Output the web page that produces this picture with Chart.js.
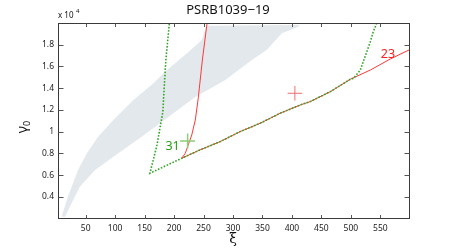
<!DOCTYPE html>
<html>
<head>
<meta charset="utf-8">
<script src="https://cdn.jsdelivr.net/npm/chart.js@4/dist/chart.umd.min.js"></script>
<style>
html,body{margin:0;padding:0;background:#fff;}
#wrap{width:452px;height:249px;position:relative;}
</style>
</head>
<body>
<div id="wrap"><canvas id="c" width="452" height="249"></canvas></div>
<script>
// ---- data (xi, gamma0) ----
const titleText = 'PSRB1039\u221219';
const xTickStep = 50;
const yTickStep = 2000;
const xRange = [3, 599.5];
const yRange = [2450, 19800];

const bandUpper = [[9,2620],[20,4410],[37,6770],[52,8250],[71,9720],[97,11200],[131,12980],[165,14460],[188,15630],[222,17110],[247,18290],[255,19550],[412,19620]];
const bandLower = [[411,19470],[383,18890],[357,17410],[332,16520],[287,14750],[236,13240],[188,11380],[142,9610],[97,7950],[66,6770],[40,5290],[23,3520],[15,2620]];

const redSteep = [[213,7810],[219,8250],[224,8990],[230,9870],[236,11200],[241,13130],[248,16520],[256,19800],[258,20500]];
const redLower = [[213,7810],[244,8550],[278,9280],[312,10170],[346,10910],[380,11800],[414,12530],[431,12830],[465,13710],[499,14810],[533,15630],[567,16610],[601,17470]];

const greenCurve = [[193,20300],[192,19800],[186,16520],[182,12980],[181,11940],[176,10470],[171,8990],[159,6480],
  [213,7810],[244,8550],[278,9280],[312,10170],[346,10910],[380,11800],[414,12530],[431,12830],[465,13710],[499,14810],[505,14900],
  [516,15630],[524,16810],[533,18140],[538,19030],[544,19800],[546,20200]];

const greenMark = [[223,9340]];
const redMark = [[405,13570]];

const curveLabels = [{text:'31', at:[197.5,8880], color:'rgb(40,160,20)'},{text:'23', at:[563,16990], color:'#ff2020'}];

const pts = a => a.map(p => ({x:p[0], y:p[1]}));

const bandPlugin = {
  id:'band',
  beforeDatasetsDraw(chart){
    const meta = chart.getDatasetMeta(0);
    const ctx = chart.ctx, a = chart.chartArea;
    ctx.save();
    ctx.beginPath(); ctx.rect(a.left, a.top, a.right-a.left, a.bottom-a.top); ctx.clip();
    ctx.beginPath();
    meta.data.forEach((el,i)=>{ if(i===0) ctx.moveTo(el.x,el.y); else ctx.lineTo(el.x,el.y); });
    ctx.closePath();
    ctx.fillStyle = 'rgb(227,232,237)';
    ctx.fill();
    ctx.restore();
  }
};

const decorPlugin = {
  id:'decor',
  afterDatasetsDraw(chart){
    const ctx = chart.ctx, xs = chart.scales.x, ys = chart.scales.y;
    ctx.save();
    ctx.font = '12.5px "Noto Sans"';
    ctx.textAlign = 'center'; ctx.textBaseline = 'middle';
    curveLabels.forEach(l=>{
      ctx.fillStyle = l.color;
      ctx.fillText(l.text, xs.getPixelForValue(l.at[0]), ys.getPixelForValue(l.at[1]));
    });
    ctx.restore();
  },
  afterDraw(chart){
    const ctx = chart.ctx, a = chart.chartArea, xs = chart.scales.x, ys = chart.scales.y;
    ctx.save();
    ctx.strokeStyle = '#3a3a3a';
    ctx.lineWidth = 1;
    const L = Math.round(a.left)+0.5, R = Math.round(a.right)-0.5, T = Math.round(a.top)+0.5, B = Math.round(a.bottom)-0.5;
    ctx.strokeRect(L, T, R-L, B-T);
    ctx.strokeStyle = '#555';
    ctx.beginPath();
    xs.ticks.forEach(t=>{
      const px = Math.round(xs.getPixelForValue(t.value))+0.5;
      ctx.moveTo(px,B); ctx.lineTo(px,B-3.5);
      ctx.moveTo(px,T); ctx.lineTo(px,T+3.5);
    });
    ys.ticks.forEach(t=>{
      const py = Math.round(ys.getPixelForValue(t.value))+0.5;
      ctx.moveTo(L,py); ctx.lineTo(L+5,py);
      ctx.moveTo(R,py); ctx.lineTo(R-5,py);
    });
    ctx.stroke();
    // texts
    ctx.fillStyle = '#111';
    ctx.textAlign = 'center'; ctx.textBaseline = 'middle';
    ctx.font = '13px "Noto Sans"';
    ctx.fillText(titleText, 228, 10);
    ctx.textAlign = 'left';
    ctx.font = '8px "Noto Sans"';
    ctx.fillText('x 10', 58, 15.5);
    ctx.font = '6px "Noto Sans"';
    ctx.fillText('4', 76, 11);
    // x label
    ctx.textAlign = 'center';
    ctx.font = '14px "DejaVu Serif"';
    ctx.fillText('\u03BE', 233, 239);
    // y label rotated
    ctx.translate(23, 127);
    ctx.rotate(-Math.PI/2);
    ctx.font = '14px "Noto Sans"';
    ctx.textAlign = 'right';
    ctx.fillText('\u03B3', 1, 0);
    ctx.textAlign = 'left';
    ctx.font = '9px "Noto Sans"';
    ctx.fillText('0', 1, 4);
    ctx.restore();
  }
};

function clampTicks(range){
  return function(s){
    s.ticks = s.ticks.filter(t => t.value > range[0] && t.value < range[1]);
    s.min = range[0]; s.max = range[1];
  };
}

Chart.defaults.font.family = '"Noto Sans"';
Chart.defaults.color = '#222';

new Chart(document.getElementById('c'), {
  type:'scatter',
  data:{datasets:[
    {data:pts(bandUpper.concat(bandLower)), showLine:false, pointRadius:0, order:9},
    {data:pts(greenMark), pointStyle:'cross', pointRadius:7.5, borderColor:'rgb(140,205,120)', borderWidth:1.5, order:0},
    {data:pts(redMark), pointStyle:'cross', pointRadius:7.3, borderColor:'rgb(240,110,110)', borderWidth:1, order:0},
    {data:pts(greenCurve), showLine:true, pointRadius:0, borderColor:'rgb(50,165,40)', borderWidth:1.6, borderDash:[1.6,1.6], order:1},
    {data:pts(redSteep), showLine:true, pointRadius:0, borderColor:'#ff3838', borderWidth:1, order:2},
    {data:pts(redLower), showLine:true, pointRadius:0, borderColor:'#ff3838', borderWidth:1, order:2}
  ]},
  options:{
    responsive:false, animation:false, devicePixelRatio:1,
    layout:{padding:{left:0, right:42.5, top:23, bottom:0}},
    plugins:{legend:{display:false}, tooltip:{enabled:false}},
    scales:{
      x:{type:'linear', min:xRange[0], max:xRange[1],
         grid:{display:false, drawTicks:false}, border:{display:false},
         ticks:{stepSize:xTickStep, includeBounds:false, padding:5, maxRotation:0, font:{size:8.5}, color:'#222'},
         afterBuildTicks:clampTicks(xRange),
         afterFit(s){ s.height = 30.3; }},
      y:{type:'linear', min:yRange[0], max:yRange[1],
         grid:{display:false, drawTicks:false}, border:{display:false},
         ticks:{stepSize:yTickStep, includeBounds:false, padding:4, font:{size:8.5}, color:'#222',
                callback:v=>String(+(v/1e4).toFixed(1))},
         afterBuildTicks:clampTicks(yRange),
         afterFit(s){ s.width = 58; }}
    }
  },
  plugins:[bandPlugin, decorPlugin]
});
</script>
</body>
</html>
